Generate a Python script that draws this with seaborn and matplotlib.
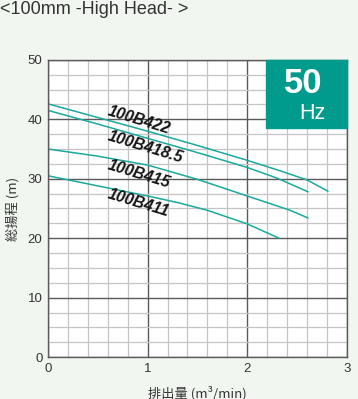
import pandas as pd
import matplotlib.pyplot as plt
import seaborn as sns
from matplotlib.ticker import MultipleLocator

# pump curves (flow m3/min, head m)
models = ['100B422', '100B418.5', '100B415', '100B411']
flow_422 = [0, 0.5, 1.0, 1.5, 2.0, 2.3, 2.6, 2.7, 2.81]
head_422 = [42.6, 40.3, 38.0, 35.6, 33.1, 31.5, 29.8, 28.9, 27.9]
flow_4185 = [0, 0.5, 1.0, 1.5, 2.0, 2.3, 2.61]
head_4185 = [41.5, 39.2, 36.8, 34.4, 31.9, 30.1, 27.8]
flow_415 = [0, 0.5, 1.0, 1.5, 2.0, 2.43, 2.61]
head_415 = [35.0, 33.8, 32.3, 29.9, 27.1, 24.7, 23.4]
flow_411 = [0, 0.5, 1.0, 1.3, 1.6, 2.0, 2.32]
head_411 = [30.5, 28.8, 27.1, 26.0, 24.7, 22.4, 20.0]

label_x = [0.91, 0.98, 0.91, 0.91]
label_y = [39.8, 35.4, 30.8, 25.9]

x_ticks = [0, 1, 2, 3]
y_ticks = [0, 10, 20, 30, 40, 50]

frames = []
for name, q, h in zip(models, [flow_422, flow_4185, flow_415, flow_411],
                      [head_422, head_4185, head_415, head_411]):
    frames.append(pd.DataFrame({'flow': q, 'head': h, 'model': name}))
df = pd.concat(frames, ignore_index=True)

sns.set_style('white')
plt.rcParams['font.family'] = ['Liberation Sans', 'Noto Sans CJK JP', 'DejaVu Sans']

bg = '#f1f7f0'
teal = '#1aa99d'
fig = plt.figure(figsize=(3.58, 3.99), dpi=100, facecolor=bg)
ax = fig.add_axes([0.134, 0.105, 0.835, 0.745])
ax.set_facecolor('white')

ax.set_xlim(0, 3)
ax.set_ylim(0, 50)
ax.xaxis.set_major_locator(MultipleLocator(1))
ax.xaxis.set_minor_locator(MultipleLocator(0.2))
ax.yaxis.set_major_locator(MultipleLocator(10))
ax.yaxis.set_minor_locator(MultipleLocator(2.5))
ax.grid(which='minor', color='#c4c4c4', linewidth=0.9)
ax.grid(which='major', color='#5a5a5a', linewidth=1.0)
ax.set_axisbelow(True)

sns.lineplot(data=df, x='flow', y='head', units='model', estimator=None,
             color=teal, linewidth=1.1, sort=False, ax=ax, legend=False)

for name, lx, ly in zip(models, label_x, label_y):
    ax.text(lx, ly, name, rotation=-17, ha='center', va='center',
            fontsize=11.5, fontweight='bold', fontstyle='italic', color='#151515')

for s in ax.spines.values():
    s.set_color('#5a5a5a')
    s.set_linewidth(1.0)

ax.set_xticks(x_ticks)
ax.set_yticks(y_ticks)
ax.tick_params(which='both', length=0, labelsize=9.5, colors='#333333', pad=4)
ax.set_xlabel('排出量 (m³/min)', fontsize=9.5, color='#333333', labelpad=8,
              family=['Noto Sans CJK JP', 'DejaVu Sans'])
ax.set_ylabel('総揚程 (m)', fontsize=9.5, color='#333333', labelpad=6,
              family=['Noto Sans CJK JP', 'DejaVu Sans'])

# 50 Hz badge
ax.add_patch(plt.Rectangle((2.19, 38.6), 0.81, 11.4, color='#009b8c',
                           zorder=5, clip_on=False))
ax.text(2.56, 46.1, '50', ha='center', va='center', fontsize=25,
        fontweight='bold', color='white', zorder=6)
ax.text(2.65, 41.0, 'Hz', ha='center', va='center', fontsize=15.5,
        color='white', zorder=6)

fig.text(0.0, 0.977, '<100mm -High Head- >', ha='left', va='center',
         fontsize=13, color='#333333')

fig.savefig('out.png', dpi=100, facecolor=bg)
